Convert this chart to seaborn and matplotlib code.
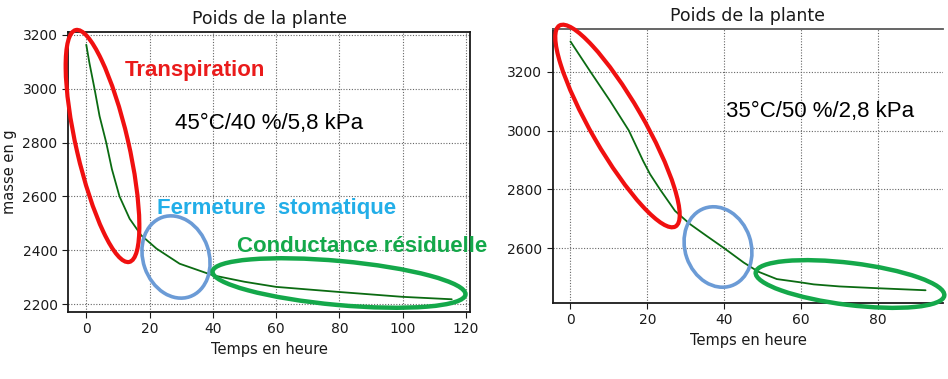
import numpy as np
import pandas as pd
import matplotlib
matplotlib.use("Agg")
import matplotlib.pyplot as plt
import seaborn as sns
from matplotlib.patches import Ellipse
from matplotlib.transforms import IdentityTransform

# Values
temps_45 = [0, 1.0, 2.6, 4.2, 6.3, 8.1, 10.5, 13.7, 17.4, 22.2, 29.5, 40, 50, 60, 80, 100, 115.5]
masse_45 = [3163, 3095, 3000, 2898, 2800, 2701, 2600, 2517, 2455, 2406, 2350, 2307, 2283, 2264,
            2245, 2227, 2218]

temps_35 = [0, 5.2, 10.3, 15.2, 18.9, 20.7, 23.3, 27.2, 31.1, 35.4, 40, 45.1, 48.9, 53.7,
            59.8, 63.3, 70, 79.8, 92.4]
masse_35 = [3303, 3200, 3101, 3000, 2897, 2852, 2800, 2727, 2682, 2642, 2600, 2551, 2520, 2495,
            2484, 2477, 2470, 2464, 2457]

xticks_45 = [0, 20, 40, 60, 80, 100, 120]
yticks_45 = [2200, 2400, 2600, 2800, 3000, 3200]
xticks_35 = [0, 20, 40, 60, 80]
yticks_35 = [2600, 2800, 3000, 3200]

titre = "Poids de la plante"
label_x = "Temps en heure"
label_y = "masse en g"

W, H = 948, 379

sns.set_style("ticks")
plt.rcParams["font.family"] = ["DejaVu Sans"]

fig = plt.figure(figsize=(W / 100, H / 100), dpi=100)
ax1 = fig.add_axes([68 / W, 1 - 312 / H, 402 / W, 280 / H])
ax2 = fig.add_axes([552.7 / W, 1 - 302.7 / H, 390.6 / W, 273.7 / H])

df45 = pd.DataFrame({"temps": temps_45, "masse": masse_45})
df35 = pd.DataFrame({"temps": temps_35, "masse": masse_35})

courbe = "#0b6b12"
sns.lineplot(data=df45, x="temps", y="masse", ax=ax1, color=courbe, lw=1.3)
sns.lineplot(data=df35, x="temps", y="masse", ax=ax2, color=courbe, lw=1.3)

for ax, xt, yt in [(ax1, xticks_45, yticks_45), (ax2, xticks_35, yticks_35)]:
    ax.set_xticks(xt)
    ax.set_yticks(yt)
    ax.grid(True, linestyle=(0, (1, 1.5)), color="0.4", linewidth=0.8)
    ax.tick_params(labelsize=10, direction="out", length=4, color="0.1", labelcolor="0.1")
    ax.set_title(titre, fontsize=12.5, color="0.1")
    ax.set_xlabel(label_x, fontsize=10.5, color="0.1")
    for s in ax.spines.values():
        s.set_linewidth(1.3)
        s.set_color("0.1")

ax1.set_ylabel(label_y, fontsize=10.5, color="0.1")
ax2.set_ylabel("")
ax2.spines["right"].set_visible(False)
ax2.spines["top"].set_color("0.35")


# hand-drawn circles, given in picture pixels (y from the top)
def ellipse(cx, cy, w, h, angle, color, lw):
    e = Ellipse((cx, H - cy), w, h, angle=angle, fill=False, edgecolor=color,
                lw=lw, transform=IdentityTransform(), clip_on=False, zorder=5)
    fig.add_artist(e)


rouge, bleu, vert = "#f01010", "#6b9bd6", "#14a84a"
ellipse(102.5, 146, 52, 238, 13, rouge, 3)
ellipse(176, 257, 66, 84, 19, bleu, 2.6)
ellipse(339, 283, 254, 44, -5.2, vert, 3.2)

ellipse(617.5, 126, 52, 232, 30, rouge, 3)
ellipse(718, 247, 66, 82, 19, bleu, 2.6)
ellipse(850, 284, 190, 42, -7, vert, 3.2)


def texte(x, y, s, color, bold=False):
    fig.text(x / W, 1 - y / H, s, color=color, fontsize=16, ha="left", va="baseline",
             family=["Liberation Sans", "DejaVu Sans"],
             fontweight="bold" if bold else "normal", zorder=6)


texte(125, 76, "Transpiration", "#ea1b1b", bold=True)
texte(175, 129, "45°C/40 %/5,8 kPa", "black")
texte(157, 214, "Fermeture  stomatique", "#22aee8", bold=True)
texte(237, 252, "Conductance résiduelle", "#14a84a", bold=True)
texte(726, 117, "35°C/50 %/2,8 kPa", "black")

fig.savefig("out.png", dpi=100)
